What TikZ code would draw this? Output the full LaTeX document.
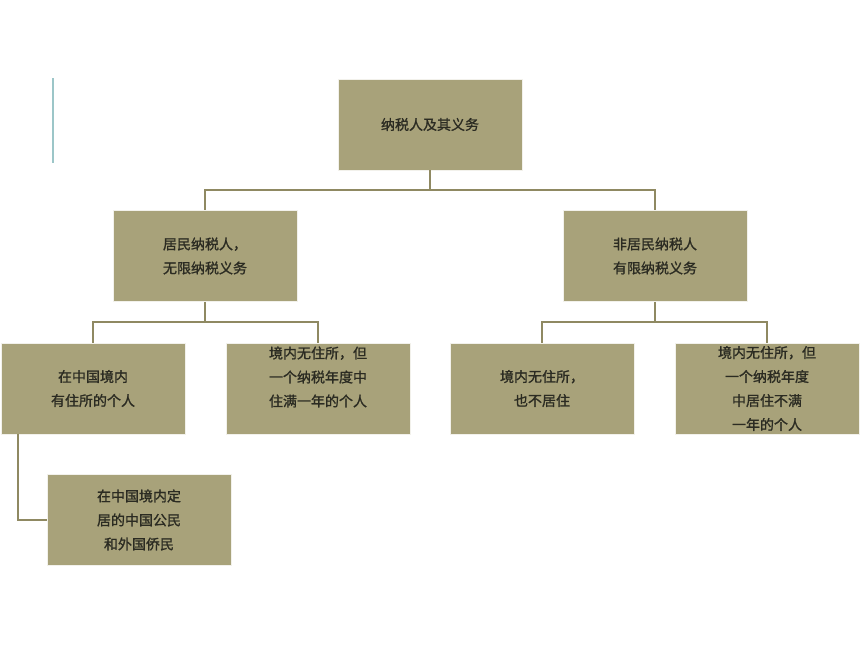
\documentclass[tikz,border=0pt]{standalone}
\usepackage{fontspec}
\newfontfamily\cjk[FakeBold=1.2]{Noto Sans CJK SC}
\definecolor{boxfill}{HTML}{A8A27A}
\definecolor{linecol}{HTML}{8F8962}
\definecolor{txtcol}{HTML}{2B2B22}
\definecolor{tealline}{HTML}{9CC6C8}
\begin{document}
\begin{tikzpicture}[x=1pt,y=-1pt,
  box/.style={fill=boxfill,draw=white!85!boxfill,line width=0.6pt,minimum width=184pt,minimum height=91pt,inner sep=0pt,
    font=\cjk\fontsize{14}{24}\selectfont,text=txtcol,align=center},
  txt/.style={font=\cjk\fontsize{14}{24}\selectfont,text=txtcol,align=center,inner sep=0pt},
  conn/.style={draw=linecol,line width=1.2pt}]
\useasboundingbox (0,0) rectangle (860,645);
\draw[tealline,line width=1.5pt] (53,78) -- (53,163);
\node[box] (root) at (430,124.5) {纳税人及其义务};
\node[box] (res) at (205,256) {居民纳税人，\\无限纳税义务};
\node[box] (nres) at (655,256) {非居民纳税人\\有限纳税义务};
\node[box] (a) at (93,388.5) {在中国境内\\有住所的个人};
\node[box] (b) at (318,388.5) {};
\node[txt] (btxt) at (318,377) {境内无住所，但\\一个纳税年度中\\住满一年的个人};
\node[box] (c) at (542,388.5) {境内无住所，\\也不居住};
\node[box] (d) at (767,388.5) {境内无住所，但\\一个纳税年度\\中居住不满\\一年的个人};
\node[box] (e) at (139,520) {在中国境内定\\居的中国公民\\和外国侨民};
\coordinate (j1) at (430,190);
\coordinate (j2) at (205,322);
\coordinate (j3) at (655,322);
\draw[conn] (root.south) -- (j1) -| (res.north);
\draw[conn] (j1) -| (nres.north);
\draw[conn] (res.south) -- (j2) -| (a.north);
\draw[conn] (j2) -| (b.north);
\draw[conn] (nres.south) -- (j3) -| (c.north);
\draw[conn] (j3) -| (d.north);
\draw[conn] (a.south -| 18,0) |- (e.west);
\end{tikzpicture}
\end{document}
